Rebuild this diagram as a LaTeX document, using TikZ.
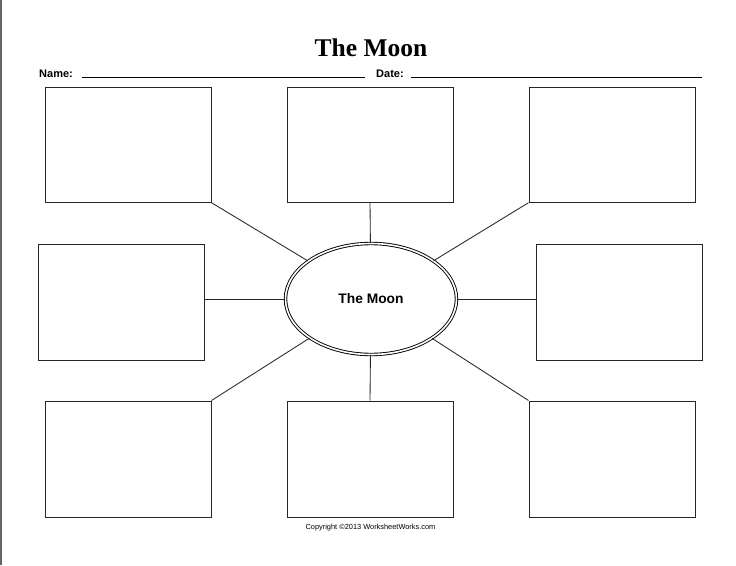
\documentclass[tikz,border=0pt]{standalone}
\usepackage{fontspec}
\setmainfont{Liberation Serif}
\newfontfamily\arial{Liberation Sans}
\usetikzlibrary{shapes.geometric}
\begin{document}
\begin{tikzpicture}[x=1pt,y=-1pt,
  box/.style={draw=black!85,line width=1pt,minimum width=166pt,minimum height=115pt,inner sep=0pt},
  conn/.style={draw=black!85,line width=0.85pt},
  rule/.style={draw=black,line width=0.9pt}]
\useasboundingbox (0,0) rectangle (736,565);
\fill[white] (0,0) rectangle (736,565);
\fill[black!60] (0,0) rectangle (2.2,565);
% title
\node[anchor=base,font=\fontsize{25.5}{30}\selectfont\bfseries] (title) at (371,56) {The Moon};
\node[anchor=base west,font=\arial\fontsize{11}{13}\selectfont\bfseries,inner sep=0pt] (name) at (39,77) {Name:};
\node[anchor=base west,font=\arial\fontsize{11}{13}\selectfont\bfseries,inner sep=0pt] (date) at (376,77) {Date:};
\coordinate (n1) at (82,77.5); \coordinate (n2) at (365,77.5);
\coordinate (d1) at (411,77.5); \coordinate (d2) at (702,77.5);
\draw[rule] (n1) -- (n2);
\draw[rule] (d1) -- (d2);
% boxes
\node[box] (tl) at (128,144.7) {};
\node[box] (tm) at (370,144.7) {};
\node[box] (tr) at (612,144.7) {};
\node[box,minimum height=116pt] (ml) at (121.7,302) {};
\node[box,minimum height=116pt] (mr) at (619,302) {};
\node[box,minimum height=116pt] (bl) at (128,459) {};
\node[box,minimum height=116pt] (bm) at (370,459) {};
\node[box,minimum height=116pt] (br) at (612,459) {};
% center ellipse
\node[ellipse,draw=black,line width=0.9pt,double,double distance=1.6pt,minimum width=171pt,minimum height=111pt,inner sep=0pt,font=\arial\fontsize{13.8}{16}\selectfont\bfseries] (moon) at (371,299) {The Moon};
% connectors
\draw[conn] (tl.south east) -- (moon);
\draw[conn] (tr.south west) -- (moon);
\draw[conn] (bl.north east) -- (moon);
\draw[conn] (br.north west) -- (moon);
\draw[conn] (tm.south) -- (moon);
\draw[conn] (bm.north) -- (moon);
\draw[conn] (ml.east |- moon.west) -- (moon.west);
\draw[conn] (mr.west |- moon.east) -- (moon.east);
% copyright
\node[anchor=base,font=\arial\fontsize{7.4}{9}\selectfont] (copy) at (370.5,529) {Copyright \textcopyright2013 WorksheetWorks.com};
\end{tikzpicture}
\end{document}
